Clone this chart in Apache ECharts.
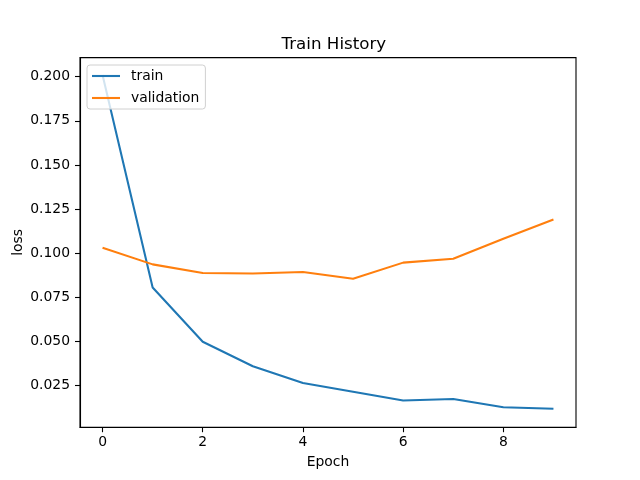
<!DOCTYPE html>
<html>
<head>
<meta charset="utf-8">
<script src="https://cdn.jsdelivr.net/npm/echarts@6/dist/echarts.min.js"></script>
<style>
html,body{margin:0;padding:0;background:#fff;}
#chart{width:640px;height:480px;}
</style>
</head>
<body>
<div id="chart"></div>
<script>
const epochs = [0, 1, 2, 3, 4, 5, 6, 7, 8, 9];
const trainLoss = [0.2010, 0.0806, 0.0499, 0.0360, 0.0265, 0.0216, 0.0166, 0.0175, 0.0128, 0.0119];
const valLoss = [0.1031, 0.0937, 0.0888, 0.0885, 0.0894, 0.0856, 0.0947, 0.0969, 0.1082, 0.1191];
const xTicks = [0, 2, 4, 6, 8];
const yTicks = [0.025, 0.050, 0.075, 0.100, 0.125, 0.150, 0.175, 0.200];

const FONT = 'DejaVu Sans';
const chart = echarts.init(document.getElementById('chart'), null, {renderer: 'canvas'});
const pairs = (ys) => epochs.map((e, i) => [e, ys[i]]);

chart.setOption({
  animation: false,
  backgroundColor: '#fff',
  title: {
    text: 'Train History',
    left: 276.5, top: 31.5,
    textStyle: {fontFamily: FONT, fontSize: 16.7, fontWeight: 'normal', color: '#000'}
  },
  grid: {
    left: 80, right: 64, top: 57.6, bottom: 52.8,
    containLabel: false, outerBoundsMode: 'none',
    show: true, borderColor: '#000', borderWidth: 1.1, backgroundColor: 'transparent'
  },
  legend: {
    left: 87, top: 65, orient: 'vertical',
    itemWidth: 28, itemHeight: 14, itemGap: 8,
    padding: [4, 6, 4, 5],
    icon: 'path://M0,0L28,0L28,2.1L0,2.1Z',
    borderColor: '#d0d0d0', borderWidth: 1, borderRadius: 3,
    backgroundColor: 'rgba(255,255,255,0.8)',
    textStyle: {fontFamily: FONT, fontSize: 13.9, color: '#000', padding: [0, 0, 0, 6]},
    data: ['train', 'validation']
  },
  xAxis: {
    type: 'value', min: -0.45, max: 9.45,
    name: 'Epoch', nameLocation: 'middle', nameGap: 28, nameMoveOverlap: false,
    nameTextStyle: {fontFamily: FONT, fontSize: 13.9, color: '#000'},
    axisLine: {show: true, onZero: false, lineStyle: {color: '#000', width: 1.1}},
    axisTick: {show: true, length: 5, inside: false, customValues: xTicks, lineStyle: {color: '#000', width: 1.1}},
    axisLabel: {customValues: xTicks, margin: 8, fontFamily: FONT, fontSize: 13.9, color: '#000'},
    splitLine: {show: false}
  },
  yAxis: {
    type: 'value', min: 0.0015, max: 0.2108,
    name: 'loss', nameLocation: 'middle', nameGap: 55, nameMoveOverlap: false,
    nameTextStyle: {fontFamily: FONT, fontSize: 13.9, color: '#000'},
    axisLine: {show: true, onZero: false, lineStyle: {color: '#000', width: 1.1}},
    axisTick: {show: true, length: 5, inside: false, customValues: yTicks, lineStyle: {color: '#000', width: 1.1}},
    axisLabel: {customValues: yTicks, margin: 10, fontFamily: FONT, fontSize: 13.9, color: '#000',
      formatter: (v) => v.toFixed(3)},
    splitLine: {show: false}
  },
  series: [
    {name: 'train', type: 'line', data: pairs(trainLoss), symbol: 'none',
     lineStyle: {color: '#1f77b4', width: 2.08}, itemStyle: {color: '#1f77b4'}},
    {name: 'validation', type: 'line', data: pairs(valLoss), symbol: 'none',
     lineStyle: {color: '#ff7f0e', width: 2.08}, itemStyle: {color: '#ff7f0e'}}
  ]
});
</script>
</body>
</html>
